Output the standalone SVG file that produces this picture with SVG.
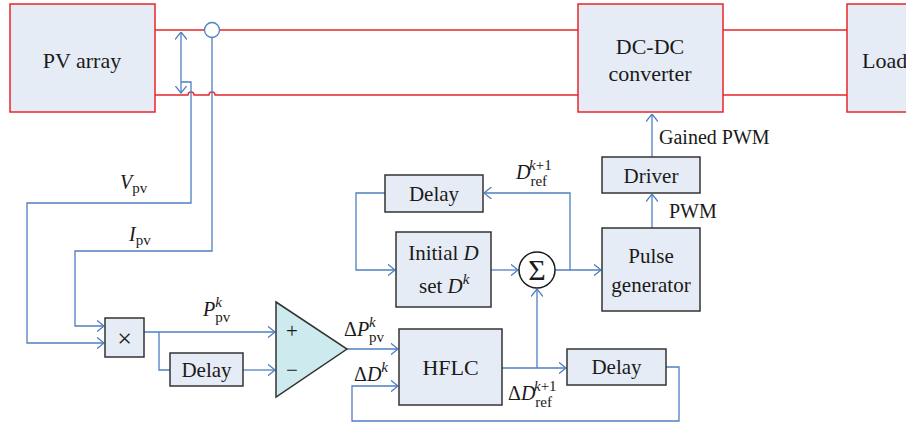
<svg xmlns="http://www.w3.org/2000/svg" width="906" height="427" viewBox="0 0 906 427">
  <style>
    .pbox { fill: #e6ecf5; stroke: #e8262a; stroke-width: 1.5; }
    .box { fill: #e6ecf5; stroke: #333; stroke-width: 1.5; }
    .power { fill: none; stroke: #e8262a; stroke-width: 1.3; }
    .sig { fill: none; stroke: #4f7fc0; stroke-width: 1.3; }
    .arr { marker-end: url(#chev); }
    text { font-family: "Liberation Serif", "DejaVu Serif", serif; fill: #1a1a1a; font-size: 21px; }
    .c { text-anchor: middle; }
    .i { font-style: italic; }
    .s { font-size: 15px; }
    .lbl { font-size: 20px; }
    .big { font-size: 22px; }
    .sym { font-size: 26px; }
    .sigma { font-size: 30px; }
  </style>
  <defs>
    <marker id="chev" viewBox="0 0 8 12" refX="7.5" refY="6" markerWidth="8" markerHeight="12" markerUnits="userSpaceOnUse" orient="auto-start-reverse">
      <path d="M0,0 L7.5,6 L0,12" fill="none" stroke="#4f7fc0" stroke-width="1.3"/>
    </marker>
  </defs>

  <!-- power path -->
  <g id="power-lines">
    <path class="power" d="M155,30 H578 M723,30 H847"/>
    <path class="power" d="M155,95 H188 a3,3 0 0 1 6,0 H209 a3,3 0 0 1 6,0 H578 M723,95 H847"/>
  </g>

  <g id="pv-array">
    <rect class="pbox" x="10" y="4" width="145" height="108"/>
    <text class="c big" x="82" y="68">PV array</text>
  </g>
  <g id="dcdc">
    <rect class="pbox" x="578" y="4" width="145" height="108"/>
    <text class="c big" x="650" y="54">DC-DC</text>
    <text class="c big" x="650" y="81">converter</text>
  </g>
  <g id="load">
    <rect class="pbox" x="847" y="4" width="70" height="108"/>
    <text class="big" x="862" y="68">Load</text>
  </g>

  <g id="current-sensor">
    <circle cx="212" cy="30" r="7.5" fill="#fff" stroke="#4f7fc0" stroke-width="1.3"/>
  </g>

  <g id="connectors">
    <!-- voltage sensing -->
    <path class="sig" d="M181,32 V93" marker-start="url(#chev)" marker-end="url(#chev)"/>
    <path class="sig arr" d="M181,82 H191 V203 H27 V343 H104"/>
    <!-- current sensing -->
    <path class="sig arr" d="M212,37.5 V251 H75 V326 H104"/>
    <!-- product -->
    <path class="sig arr" d="M144,332 H275"/>
    <path class="sig" d="M159,332 V370 H170"/>
    <path class="sig arr" d="M243,370 H275"/>
    <!-- error to HFLC -->
    <path class="sig arr" d="M347,349 H398"/>
    <path class="sig arr" d="M666,367 H679 V421 H352 V386 H398"/>
    <!-- HFLC output -->
    <path class="sig arr" d="M502,368 H566"/>
    <path class="sig arr" d="M537,368 V289"/>
    <!-- duty loop -->
    <path class="sig arr" d="M491,270 H518"/>
    <path class="sig arr" d="M555,270 H601"/>
    <path class="sig arr" d="M570,270 V193 H484"/>
    <path class="sig arr" d="M385,193 H356 V270 H395"/>
    <!-- PWM chain -->
    <path class="sig arr" d="M652,228 V194"/>
    <path class="sig arr" d="M652,157 V114"/>
  </g>

  <g id="multiplier">
    <rect class="box" x="105" y="318" width="39" height="39"/>
    <text class="c sym" x="124.5" y="347">×</text>
  </g>
  <g id="delay-power">
    <rect class="box" x="170" y="353" width="73" height="33"/>
    <text class="c" x="206.5" y="377">Delay</text>
  </g>
  <g id="comparator">
    <path d="M276,302 L347,349 L276,397 Z" fill="#cdeaee" stroke="#333" stroke-width="1.5"/>
    <text x="286" y="338">+</text>
    <text x="286" y="377">−</text>
  </g>
  <g id="hflc">
    <rect class="box" x="399" y="329" width="103" height="76"/>
    <text class="c big" x="450.5" y="375">HFLC</text>
  </g>
  <g id="delay-dd">
    <rect class="box" x="567" y="349" width="99" height="36"/>
    <text class="c" x="616.5" y="374">Delay</text>
  </g>
  <g id="delay-d">
    <rect class="box" x="385" y="175" width="98" height="37"/>
    <text class="c" x="434" y="201">Delay</text>
  </g>
  <g id="initial-d">
    <rect class="box" x="396" y="232" width="95" height="75"/>
    <text class="c" x="443.5" y="260">Initial <tspan class="i">D</tspan></text>
    <text x="419" y="293">set <tspan class="i">D</tspan><tspan class="i s" dy="-9">k</tspan></text>
  </g>
  <g id="sum">
    <circle cx="537" cy="270" r="18" fill="#fff" stroke="#1a1a1a" stroke-width="1.5"/>
    <text class="c sigma" x="537" y="280">Σ</text>
  </g>
  <g id="pulse-generator">
    <rect class="box" x="602" y="228" width="98" height="83"/>
    <text class="c" x="651" y="263">Pulse</text>
    <text class="c" x="651" y="292">generator</text>
  </g>
  <g id="driver">
    <rect class="box" x="602" y="157" width="98" height="36"/>
    <text class="c" x="651" y="183">Driver</text>
  </g>

  <g id="labels">
    <text class="lbl" x="120" y="189"><tspan class="i">V</tspan><tspan class="s" dy="4">pv</tspan></text>
    <text class="lbl" x="129" y="241"><tspan class="i">I</tspan><tspan class="s" dy="4">pv</tspan></text>
    <text class="lbl" x="203" y="316"><tspan class="i">P</tspan><tspan class="s" dy="6">pv</tspan><tspan class="i s" dx="-15" dy="-15">k</tspan></text>
    <text class="lbl" x="344" y="336">Δ<tspan class="i">P</tspan><tspan class="s" dy="6">pv</tspan><tspan class="i s" dx="-15" dy="-15">k</tspan></text>
    <text class="lbl" x="354" y="381">Δ<tspan class="i">D</tspan><tspan class="i s" dy="-9">k</tspan></text>
    <text class="lbl" x="516" y="179"><tspan class="i">D</tspan><tspan class="s" dy="7">ref</tspan><tspan class="s" dx="-18" dy="-16"><tspan class="i">k</tspan>+1</tspan></text>
    <text class="lbl" x="508" y="400">Δ<tspan class="i">D</tspan><tspan class="s" dy="7">ref</tspan><tspan class="s" dx="-18" dy="-16"><tspan class="i">k</tspan>+1</tspan></text>
    <text class="lbl" x="659" y="144">Gained PWM</text>
    <text class="lbl" x="669" y="218">PWM</text>
  </g>
</svg>
